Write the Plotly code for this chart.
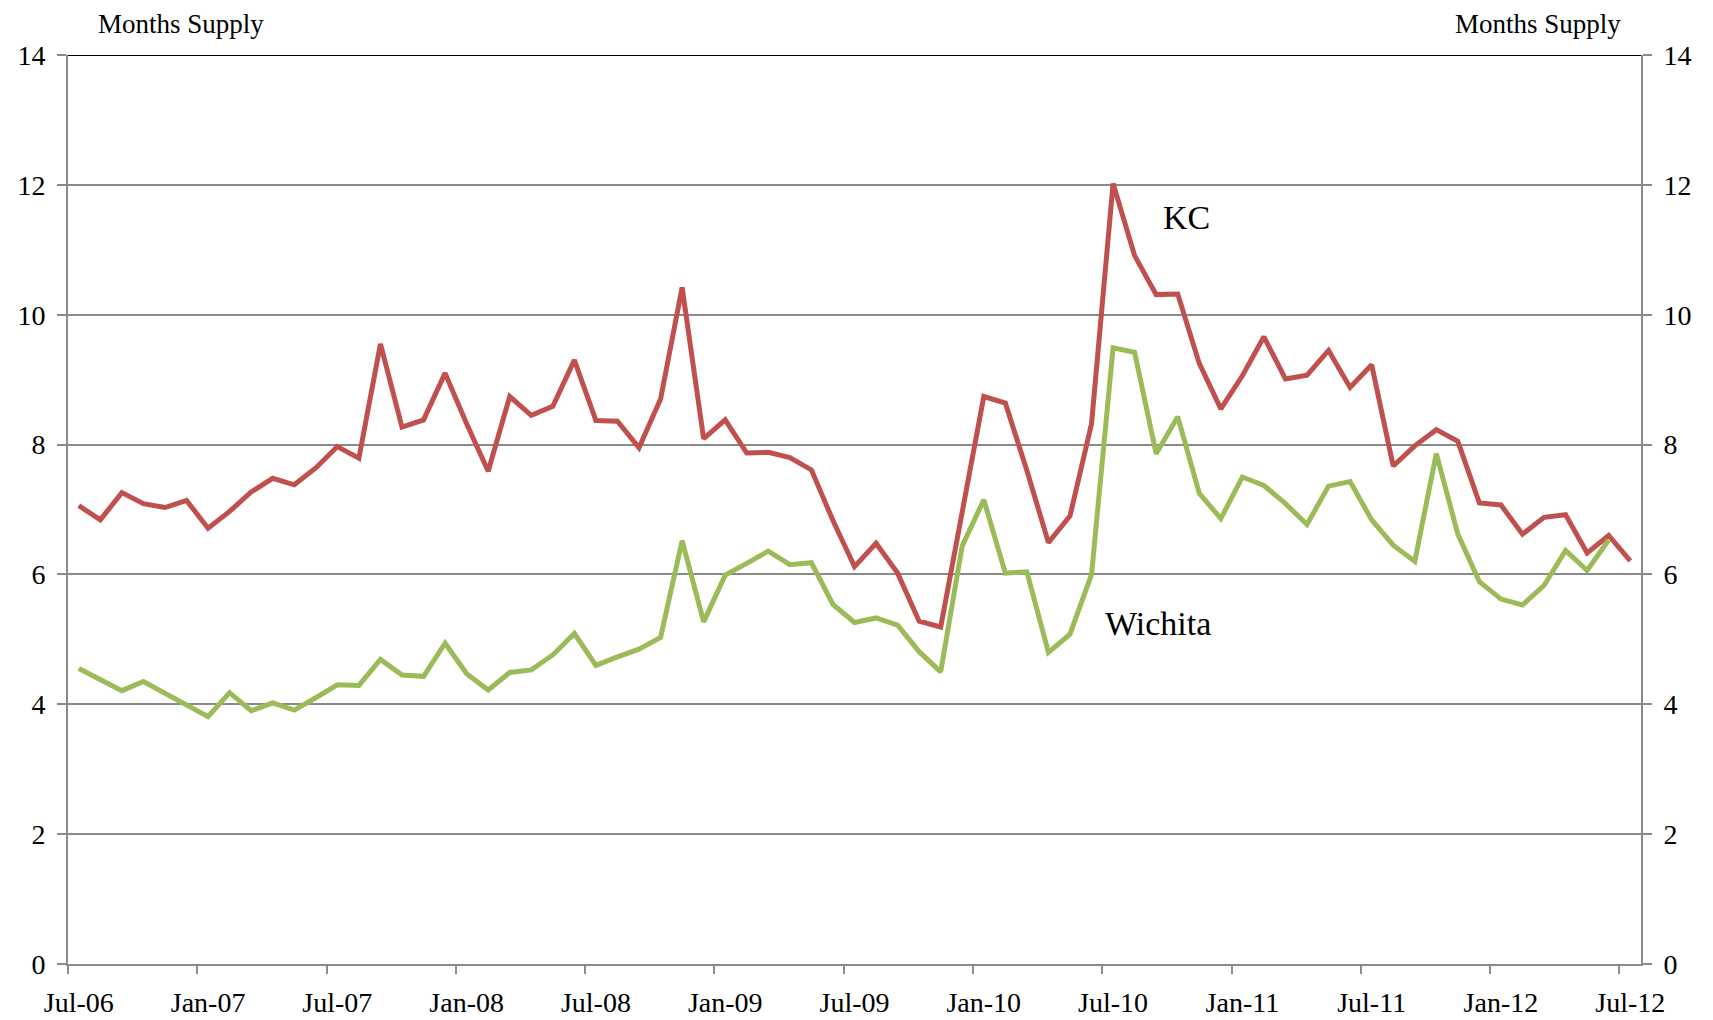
import plotly.graph_objects as go

# Monthly months-supply, Jul-06 .. Jul-12 (Wichita ends Jun-12)
kc = [
    7.06, 6.84, 7.26, 7.09, 7.03, 7.14, 6.71, 6.97, 7.27, 7.48,
    7.38, 7.64, 7.97, 7.79, 9.55, 8.27, 8.38, 9.10, 8.32, 7.59,
    8.74, 8.45, 8.59, 9.30, 8.37, 8.36, 7.95, 8.70, 10.42, 8.09,
    8.38, 7.87, 7.88, 7.80, 7.61, 6.83, 6.12, 6.48, 6.02, 5.28,
    5.19, 6.95, 8.74, 8.64, 7.60, 6.49, 6.90, 8.32, 12.02, 10.91,
    10.31, 10.32, 9.25, 8.55, 9.06, 9.66, 9.01, 9.07, 9.45, 8.88,
    9.23, 7.67, 7.98, 8.23, 8.05, 7.10, 7.07, 6.62, 6.88, 6.92,
    6.33, 6.60, 6.21,
]
wichita = [
    4.55, 4.37, 4.21, 4.35, 4.17, 3.98, 3.81, 4.18, 3.90, 4.02,
    3.91, 4.10, 4.30, 4.29, 4.69, 4.45, 4.43, 4.94, 4.47, 4.22,
    4.49, 4.53, 4.76, 5.09, 4.60, 4.73, 4.85, 5.03, 6.52, 5.27,
    5.99, 6.17, 6.36, 6.15, 6.18, 5.54, 5.26, 5.33, 5.22, 4.81,
    4.50, 6.44, 7.15, 6.02, 6.04, 4.80, 5.08, 6.00, 9.49, 9.42,
    7.86, 8.43, 7.25, 6.86, 7.50, 7.37, 7.09, 6.77, 7.36, 7.43,
    6.84, 6.45, 6.20, 7.86, 6.62, 5.89, 5.62, 5.53, 5.83, 6.37,
    6.06, 6.53,
]
tick_labels = [
    "Jul-06", "Jan-07", "Jul-07", "Jan-08", "Jul-08", "Jan-09", "Jul-09",
    "Jan-10", "Jul-10", "Jan-11", "Jul-11", "Jan-12", "Jul-12",
]
y_ticks = [0, 2, 4, 6, 8, 10, 12, 14]

n_months = len(kc)
label_pos = list(range(0, n_months, 6))
tick_bounds = [p - 0.5 for p in label_pos]

FONT = "Liberation Serif"
GRID = "#8a8a8a"
RED = "#C0504D"
GREEN = "#9BBB59"
tick_font = dict(family=FONT, size=28, color="black")

fig = go.Figure()
fig.add_trace(go.Scatter(
    x=list(range(len(kc))), y=kc, mode="lines", name="KC",
    line=dict(color=RED, width=5), showlegend=False,
))
fig.add_trace(go.Scatter(
    x=list(range(len(wichita))), y=wichita, mode="lines", name="Wichita",
    line=dict(color=GREEN, width=5), showlegend=False,
))
# empty trace so the overlay axes (boundary ticks, right axis) get drawn
fig.add_trace(go.Scatter(x=[], y=[], xaxis="x2", yaxis="y2", showlegend=False))

xr = [-0.5, n_months - 0.5]
yr = [0, 14]

# page body adds an 8px margin, so the figure is sized 8px smaller
fig.update_layout(
    width=1705,
    height=1012,
    margin=dict(l=60, r=72, t=47, b=56, autoexpand=False),
    paper_bgcolor="white",
    plot_bgcolor="white",
    font=dict(family=FONT, size=28, color="black"),
    xaxis=dict(
        range=xr, tickmode="array", tickvals=label_pos, ticktext=tick_labels,
        ticks="", showgrid=False, zeroline=False, automargin=False,
        showline=True, linecolor=GRID, linewidth=2,
        tickfont=tick_font, ticklabelstandoff=12,
    ),
    xaxis2=dict(
        range=xr, overlaying="x", anchor="y", side="bottom",
        tickmode="array", tickvals=tick_bounds, ticks="outside",
        ticklen=9, tickwidth=1.5, tickcolor=GRID, automargin=False,
        showticklabels=False, showgrid=False, zeroline=False, showline=False,
    ),
    yaxis=dict(
        range=yr, tickmode="array", tickvals=y_ticks,
        ticks="outside", ticklen=9, tickwidth=1.5, tickcolor=GRID,
        showgrid=True, gridcolor=GRID, gridwidth=1.5, zeroline=False,
        showline=True, linecolor=GRID, linewidth=2, automargin=False,
        tickfont=tick_font, ticklabelstandoff=6,
    ),
    yaxis2=dict(
        range=yr, overlaying="y", anchor="x2", side="right",
        tickmode="array", tickvals=y_ticks,
        ticks="outside", ticklen=9, tickwidth=1.5, tickcolor=GRID,
        showgrid=False, zeroline=False, automargin=False,
        showline=True, linecolor=GRID, linewidth=2,
        tickfont=tick_font, ticklabelstandoff=6,
    ),
    shapes=[dict(
        type="line", xref="paper", yref="y", x0=0, x1=1, y0=14, y1=14,
        line=dict(color="black", width=2),
    )],
    annotations=[
        dict(text="Months Supply", xref="paper", yref="paper", x=0.018, y=1.034,
             xanchor="left", yanchor="middle", showarrow=False,
             font=dict(family=FONT, size=27)),
        dict(text="Months Supply", xref="paper", yref="paper", x=0.9886, y=1.034,
             xanchor="right", yanchor="middle", showarrow=False,
             font=dict(family=FONT, size=27)),
        dict(text="KC", x=51.4, y=11.5, xref="x", yref="y", showarrow=False,
             font=dict(family=FONT, size=34)),
        dict(text="Wichita", x=50.1, y=5.25, xref="x", yref="y", showarrow=False,
             font=dict(family=FONT, size=34)),
    ],
)

fig.write_html("out.html")
